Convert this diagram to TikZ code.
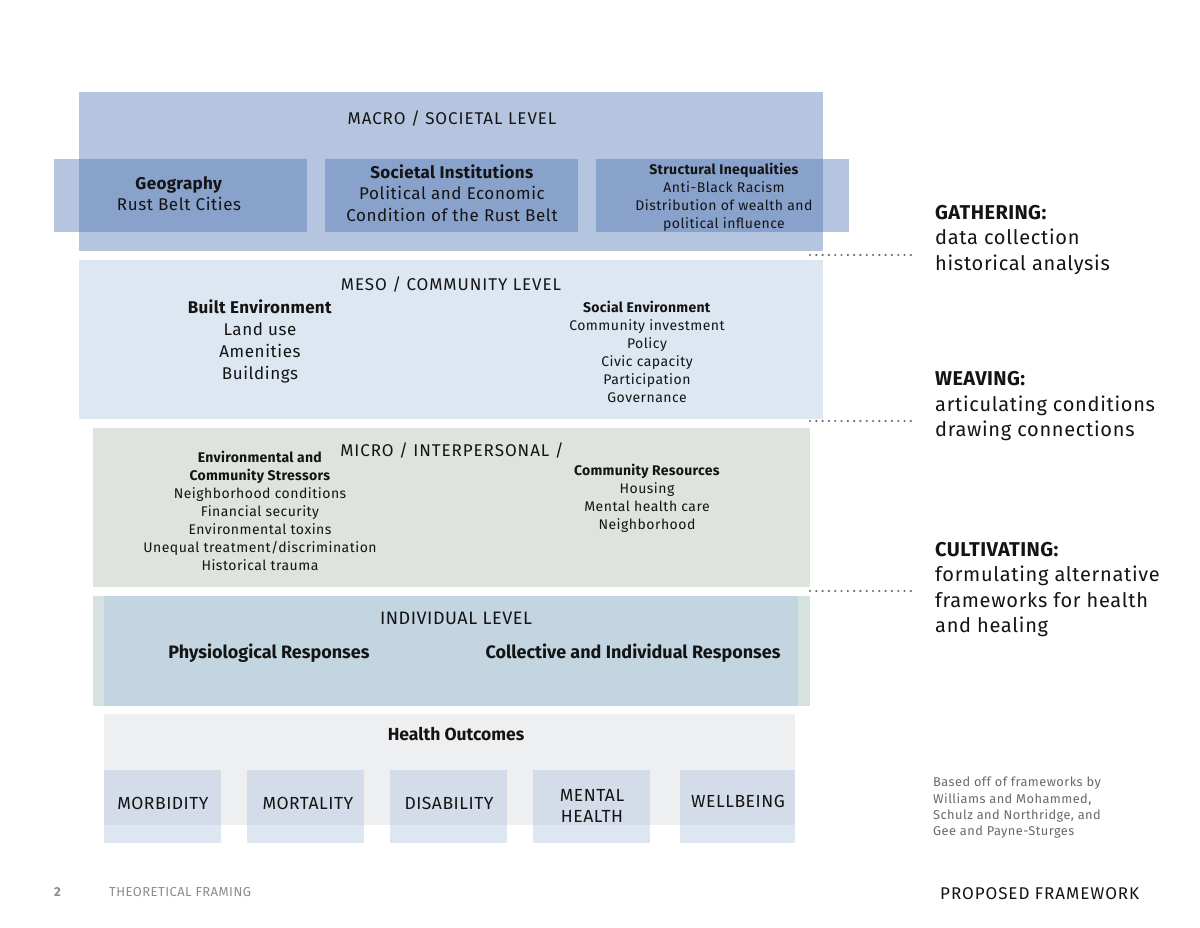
\documentclass[tikz,border=0pt]{standalone}
\usepackage{fontspec}
\setmainfont{Fira Sans}[LetterSpace=3.5,BoldFeatures={LetterSpace=2}]
\newfontfamily\capsfont{Fira Sans}[LetterSpace=5.5]
\newfontfamily\indfont{Fira Sans}[LetterSpace=3]
\newfontfamily\plainfont{Fira Sans}
\begin{document}
\begin{tikzpicture}[x=1pt,y=-1pt,
  txt/.style={inner sep=0pt,align=center,text=textc},
  lefttxt/.style={inner sep=0pt,align=left,anchor=west,text=textc},
  dotline/.style={draw=dotc,line width=2.4pt,line cap=round,dash pattern=on 0pt off 6.3pt},
]
\definecolor{textc}{RGB}{20,20,20}
\definecolor{macroc}{RGB}{70,110,177}
\definecolor{mesoc}{RGB}{221,231,242}
\definecolor{microc}{RGB}{223,227,222}
\definecolor{indouter}{RGB}{213,226,223}
\definecolor{indinner}{RGB}{195,213,224}
\definecolor{healthc}{RGB}{238,239,241}
\definecolor{outc}{RGB}{163,186,217}
\definecolor{dotc}{RGB}{105,105,105}
\definecolor{greyt}{RGB}{105,105,105}
\definecolor{footc}{RGB}{140,140,140}
\useasboundingbox (0,0) rectangle (1200,927);
\fill[white] (0,0) rectangle (1200,927);
% rectangles
\fill[macroc,opacity=0.4] (79,92) rectangle (823,251);
\fill[macroc,opacity=0.4] (54,159) rectangle (307,232);
\fill[macroc,opacity=0.4] (325,159) rectangle (578,232);
\fill[macroc,opacity=0.4] (596,159) rectangle (849,232);
\fill[mesoc] (79,260) rectangle (823,419);
\fill[microc] (93,428) rectangle (810,587);
\fill[indouter] (93,596) rectangle (810,706);
\fill[indinner] (104,596) rectangle (798,706);
\fill[healthc] (104,714) rectangle (795,825);
\foreach \xa/\xb in {104/221,247/364,390/507,533/650,680/795}
  \fill[outc,opacity=0.35] (\xa,770) rectangle (\xb,843);
% macro texts
\node[txt,font=\capsfont\fontsize{17}{21}\selectfont] (macro) at (452,119) {MACRO / SOCIETAL LEVEL};
\node[txt,font=\fontsize{17}{21}\selectfont] (geo) at (179,194) {\textbf{Geography}\\Rust Belt Cities};
\node[txt,font=\fontsize{17}{21.5}\selectfont] (inst) at (452,193) {\textbf{Societal Institutions}\\Political and Economic\\Condition of the Rust Belt};
\node[txt,font=\fontsize{14}{18}\selectfont] (ineq) at (724,197) {\textbf{Structural Inequalities}\\Anti-Black Racism\\Distribution of wealth and\\political influence};
% meso
\node[txt,font=\capsfont\fontsize{17}{21}\selectfont] (meso) at (451,285) {MESO / COMMUNITY LEVEL};
\node[txt,font=\fontsize{17}{22}\selectfont] (built) at (260,341) {\textbf{Built Environment}\\Land use\\Amenities\\Buildings};
\node[txt,font=\fontsize{14}{18}\selectfont] (social) at (647,352) {\textbf{Social Environment}\\Community investment\\Policy\\Civic capacity\\Participation\\Governance};
% micro
\node[txt,font=\capsfont\fontsize{17}{21}\selectfont] (micro) at (452,451) {MICRO / INTERPERSONAL /};
\node[txt,font=\fontsize{14}{18}\selectfont] (stress) at (260,511) {\textbf{Environmental and}\\\textbf{Community Stressors}\\Neighborhood conditions\\Financial security\\Environmental toxins\\Unequal treatment/discrimination\\Historical trauma};
\node[txt,font=\fontsize{14}{18}\selectfont] (res) at (647,498) {\textbf{Community Resources}\\Housing\\Mental health care\\Neighborhood};
% individual
\node[txt,font=\indfont\fontsize{18}{21}\selectfont] (ind) at (456,618) {INDIVIDUAL LEVEL};
\node[txt,font=\plainfont\bfseries\fontsize{18}{21}\selectfont] (phys) at (269,653) {Physiological Responses};
\node[txt,font=\plainfont\bfseries\fontsize{18}{21}\selectfont] (coll) at (633,653) {Collective and Individual Responses};
% health outcomes
\node[txt,font=\plainfont\bfseries\fontsize{17.5}{21}\selectfont] (health) at (456,734) {Health Outcomes};
\node[txt,font=\indfont\fontsize{17.5}{21}\selectfont] (morb) at (163,803) {MORBIDITY};
\node[txt,font=\indfont\fontsize{17.5}{21}\selectfont] (mort) at (308,803) {MORTALITY};
\node[txt,font=\indfont\fontsize{17.5}{21}\selectfont] (dis) at (449,803) {DISABILITY};
\node[txt,font=\indfont\fontsize{17.5}{21}\selectfont] (ment) at (592,806) {MENTAL\\HEALTH};
\node[txt,font=\indfont\fontsize{17.5}{21}\selectfont] (well) at (738,801) {WELLBEING};
% right side
\node[lefttxt,font=\fontsize{20}{25.5}\selectfont] (gath) at (935,240) {\textbf{GATHERING:}\\data collection\\historical analysis};
\node[lefttxt,font=\fontsize{20}{25.5}\selectfont] (weav) at (935,406.5) {\textbf{WEAVING:}\\articulating conditions\\drawing connections};
\node[lefttxt,font=\fontsize{20}{25.5}\selectfont] (cult) at (935,589.5) {\textbf{CULTIVATING:}\\formulating alternative\\frameworks for health\\and healing};
\coordinate (d1a) at (810,255); \coordinate (d1b) at (916,255);
\coordinate (d2a) at (810,421); \coordinate (d2b) at (916,421);
\coordinate (d3a) at (810,591); \coordinate (d3b) at (916,591);
\draw[dotline] (d1a) -- (d1b);
\draw[dotline] (d2a) -- (d2b);
\draw[dotline] (d3a) -- (d3b);
\node[lefttxt,text=greyt,font=\fontsize{12.8}{16.3}\selectfont] (based) at (933,808) {Based off of frameworks by\\Williams and Mohammed,\\Schulz and Northridge, and\\Gee and Payne-Sturges};
\node[lefttxt,font=\capsfont\fontsize{17}{21}\selectfont] (prop) at (940,894) {PROPOSED FRAMEWORK};
\node[lefttxt,text=footc,font=\bfseries\fontsize{13}{16}\selectfont] (pnum) at (54,892) {2};
\node[lefttxt,text=footc,font=\fontsize{13}{16}\selectfont] (theo) at (109,892) {THEORETICAL FRAMING};
\end{tikzpicture}
\end{document}
